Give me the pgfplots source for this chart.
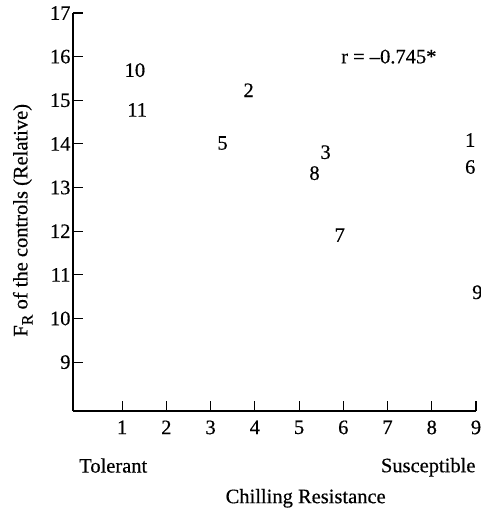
\documentclass[border=0pt]{standalone}
\usepackage{pgfplots}
\pgfplotsset{compat=1.18}
\usepackage{fontspec}
\setmainfont{Liberation Serif}[FakeBold=0.5]
\begin{document}
\begin{tikzpicture}
\path[use as bounding box] (-73pt,-97pt) rectangle ++(481pt,508pt);
\begin{axis}[at={(0,0)}, anchor=south west, scale only axis,
  width=403pt, height=398pt,
  xmin=-0.11, xmax=9, ymin=7.88, ymax=17,
  axis lines=left, axis line style={-, line width=1.2pt},
  xtick={1,...,9}, ytick={9,...,17},
  tick align=inside, major tick length=10pt,
  tick style={line width=1.1pt, black},
  ticklabel style={font=\fontsize{20.5}{24}\selectfont},
  xticklabel style={yshift=-6pt},
  yticklabel style={xshift=1pt},
  /pgf/number format/assume math mode=true,
  clip=false]
\addplot[only marks, mark=none, nodes near coords, point meta=explicit symbolic,
  nodes near coords style={anchor=center, font=\fontsize{20.5}{24}\selectfont}]
  table[meta=label] {
x y label
1.29 15.69 10
1.34 14.78 11
3.27 14.02 5
3.86 15.23 2
5.60 13.81 3
5.35 13.33 8
8.87 14.09 1
8.87 13.47 6
5.92 11.91 7
9.03 10.60 9
};
\node[font=\fontsize{20.5}{24}\selectfont] at (axis cs:7.03,16.0) {r = --0.745*};
\node[font=\fontsize{20.5}{24}\selectfont] at (axis cs:0.8,6.63) {Tolerant};
\node[font=\fontsize{20.5}{24}\selectfont] at (axis cs:7.92,6.59) {Susceptible};
\node[font=\fontsize{20.5}{24}\selectfont] at (axis cs:5.15,5.88) {Chilling Resistance};
\node[rotate=90, font=\fontsize{20.5}{24}\selectfont] at (axis cs:-1.245,12.25)
  {F\raisebox{-0.55ex}{\fontsize{16}{16}\selectfont R} of the controls (Relative)};
\end{axis}
\end{tikzpicture}
\end{document}
